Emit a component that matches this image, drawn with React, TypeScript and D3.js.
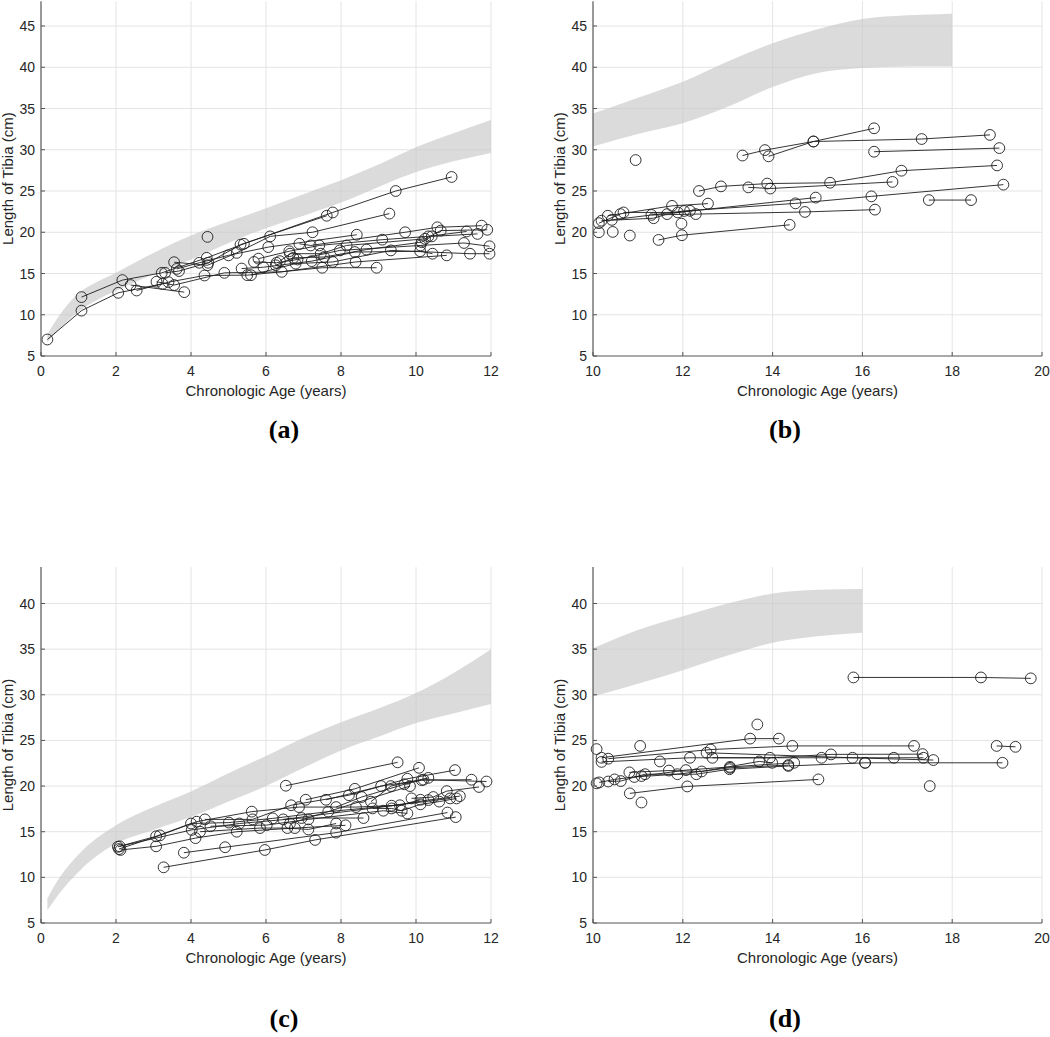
import React from 'react';
import * as d3 from 'd3';

type Pt = [number, number];

// ---------- tick labels ----------
const xTicksYoung = [0, 2, 4, 6, 8, 10, 12];
const xTicksOld = [10, 12, 14, 16, 18, 20];
const yTicksTop = [5, 10, 15, 20, 25, 30, 35, 40, 45];
const yTicksBottom = [5, 10, 15, 20, 25, 30, 35, 40];

const xLabel = 'Chronologic Age (years)';
const yLabel = 'Length of Tibia (cm)';

// ---------- normal range bands ----------
const bandAgesA = [0.17, 0.5, 1, 1.5, 2, 3, 4, 5, 6, 7, 8, 9, 10, 11, 12];
const bandUpperA = [7.6, 10.0, 12.6, 14.0, 15.1, 17.5, 19.6, 21.3, 22.9, 24.6, 26.3, 28.2, 30.3, 32.0, 33.6];
const bandLowerA = [6.7, 8.3, 10.4, 11.8, 12.9, 14.9, 16.7, 18.7, 20.5, 22.0, 23.6, 25.5, 27.3, 28.6, 29.6];

const bandAgesB = [10, 11, 12, 13, 14, 15, 16, 17, 18];
const bandUpperB = [34.4, 36.3, 38.25, 40.7, 42.9, 44.6, 45.85, 46.3, 46.5];
const bandLowerB = [30.4, 31.9, 33.2, 35.2, 37.6, 39.3, 39.9, 40.1, 40.1];

const bandAgesC = [0.17, 0.5, 1, 2, 3, 4, 5, 6, 7, 8, 9, 10, 11, 12];
const bandUpperC = [7.7, 10.0, 12.5, 15.7, 17.7, 19.4, 21.4, 23.3, 25.3, 27.0, 28.5, 30.2, 32.4, 35.0];
const bandLowerC = [6.4, 8.3, 10.6, 13.7, 15.2, 16.6, 18.3, 20.0, 22.0, 23.9, 25.4, 26.9, 27.95, 29.0];

const bandAgesD = [10, 11, 12, 13, 14, 15, 16];
const bandUpperD = [35.1, 37.1, 38.6, 40.0, 41.1, 41.5, 41.6];
const bandLowerD = [29.8, 31.2, 32.7, 34.3, 35.7, 36.4, 36.8];

// ---------- subjects: [age, tibia length] ----------
const subjectsA: Pt[][] = [
  [[0.17, 7.0], [1.08, 10.5], [2.06, 12.66], [3.24, 13.75]],
  [[1.08, 12.14], [2.17, 14.2], [3.22, 15.08], [4.42, 16.9], [5.41, 18.6], [7.78, 22.4], [9.46, 25.0], [10.95, 26.7]],
  [[2.39, 13.6], [3.82, 12.74]],
  [[2.55, 12.94], [3.4, 13.95], [4.36, 14.76], [5.5, 14.8], [7.5, 15.7], [8.95, 15.7]],
  [[3.08, 14.0], [3.55, 13.6], [4.89, 15.08], [6.42, 15.2], [8.39, 16.4], [10.82, 17.2]],
  [[3.55, 16.37], [4.44, 16.0], [5.22, 17.5], [6.11, 19.5], [7.24, 20.0], [9.29, 22.26]],
  [[3.31, 15.08], [3.68, 15.3], [4.46, 16.3], [5.32, 18.5], [7.62, 22.0]],
  [[3.62, 15.56], [4.22, 16.3], [5.0, 17.2], [6.06, 18.2], [8.42, 19.7]],
  [[4.44, 19.44]],
  [[5.35, 15.6], [5.93, 15.76], [7.22, 16.5], [8.37, 17.6], [10.11, 17.7], [10.44, 17.4]],
  [[5.6, 14.8], [6.79, 16.2], [7.78, 16.4], [9.33, 17.8], [11.44, 17.4], [11.96, 17.4]],
  [[5.68, 16.4], [6.28, 16.3], [6.84, 16.7], [7.97, 17.8], [10.12, 18.4], [11.28, 18.7], [11.96, 18.3]],
  [[5.8, 16.8], [6.62, 17.7], [7.42, 18.4], [9.1, 19.1], [10.33, 19.5], [11.35, 20.1]],
  [[6.26, 16.0], [6.73, 16.9], [7.55, 17.0], [8.68, 17.9], [10.15, 18.8], [10.42, 19.5], [11.64, 19.8]],
  [[6.37, 16.5], [6.64, 17.4], [7.46, 17.4], [8.15, 18.4], [10.24, 19.2], [10.66, 20.2], [11.9, 20.3]],
  [[6.89, 18.6], [7.19, 18.4], [9.71, 20.0], [10.57, 20.6], [11.75, 20.8]],
];

const subjectsB: Pt[][] = [
  [[13.33, 29.3], [13.83, 29.96], [14.91, 31.0], [16.26, 32.6]],
  [[13.91, 29.2], [14.91, 31.0], [17.32, 31.3], [18.84, 31.8]],
  [[16.26, 29.76], [19.05, 30.2]],
  [[10.95, 28.75]],
  [[12.36, 25.0], [12.85, 25.56], [13.88, 25.9], [15.28, 26.0], [16.87, 27.46], [19.0, 28.1]],
  [[13.46, 25.44], [13.95, 25.3], [16.67, 26.1]],
  [[10.33, 22.0], [11.76, 23.2], [12.56, 23.47]],
  [[10.42, 21.5], [12.03, 22.58], [14.51, 23.5], [16.2, 24.35], [19.14, 25.77]],
  [[11.3, 22.1], [12.29, 22.2], [14.72, 22.46], [16.28, 22.74]],
  [[11.46, 19.07], [11.98, 19.64], [14.38, 20.9]],
  [[17.48, 23.9], [18.42, 23.9]],
  [[10.68, 22.4], [11.89, 22.4], [14.96, 24.2]],
  [[10.19, 21.4], [11.35, 21.7], [11.65, 22.2], [12.16, 22.6]],
  [[10.13, 21.1], [10.61, 22.2]],
  [[10.13, 20.0]],
  [[10.44, 20.04]],
  [[10.82, 19.6]],
  [[11.97, 21.05]],
];

const subjectsC: Pt[][] = [
  [[2.05, 13.35], [3.07, 14.5], [4.0, 15.9], [5.01, 16.0], [6.18, 16.46], [7.66, 17.2], [9.35, 17.85], [10.33, 18.47], [11.17, 18.9]],
  [[2.08, 13.1], [3.17, 14.6], [4.15, 16.1], [5.62, 17.2], [6.88, 17.7], [8.4, 17.7], [9.57, 17.9], [10.12, 18.5]],
  [[2.1, 13.4], [4.02, 15.2], [5.29, 15.9], [6.95, 16.5], [8.6, 16.5]],
  [[2.12, 13.0], [3.07, 13.4], [4.12, 14.3], [5.22, 15.0], [6.77, 15.4], [8.12, 15.7]],
  [[3.27, 11.1], [5.97, 13.0], [7.31, 14.1], [11.06, 16.6]],
  [[3.81, 12.7], [4.91, 13.3], [7.87, 14.9], [10.84, 17.1]],
  [[4.24, 15.0], [5.84, 15.4], [6.57, 15.4], [7.13, 15.25], [7.87, 15.9]],
  [[4.37, 16.35], [5.64, 16.35], [6.67, 17.9], [8.21, 19.0], [9.77, 20.8], [11.04, 21.75]],
  [[4.52, 15.6], [6.02, 15.73], [7.13, 16.35], [9.13, 17.3], [9.77, 17.0]],
  [[6.53, 20.04], [9.51, 22.6]],
  [[7.06, 18.5], [8.37, 19.7], [10.08, 22.0]],
  [[7.6, 18.5], [9.07, 20.0], [10.15, 20.65], [11.48, 20.7]],
  [[7.87, 17.7], [8.55, 18.8], [9.69, 20.2], [10.2, 20.7], [11.88, 20.5]],
  [[8.8, 18.3], [9.33, 20.0], [10.33, 20.9]],
  [[8.84, 17.55], [9.35, 17.55], [9.62, 17.3], [10.12, 18.0], [10.62, 18.3], [11.08, 18.65]],
  [[9.88, 18.65], [10.46, 18.8], [10.82, 19.45], [11.68, 19.9]],
  [[6.64, 15.9], [9.84, 20.0]],
  [[6.46, 16.35], [10.91, 18.65]],
];

const subjectsD: Pt[][] = [
  [[15.8, 31.9], [18.64, 31.9], [19.75, 31.8]],
  [[10.19, 23.1], [13.5, 25.2], [14.14, 25.2]],
  [[10.34, 23.0], [12.62, 24.0], [14.44, 24.4], [17.15, 24.4]],
  [[18.99, 24.4], [19.41, 24.3]],
  [[10.19, 22.65], [12.16, 23.1], [13.94, 23.1], [15.3, 23.47], [17.34, 23.5]],
  [[12.66, 23.1], [15.09, 23.1], [16.7, 23.1], [17.36, 23.1]],
  [[12.53, 23.65], [15.78, 23.1], [17.58, 22.85]],
  [[16.06, 22.55], [19.12, 22.55]],
  [[10.14, 20.4], [10.48, 20.73], [11.08, 21.1], [12.07, 21.75], [13.05, 22.1], [14.48, 22.55]],
  [[10.34, 20.5], [10.62, 20.55], [11.16, 21.3], [12.3, 21.3], [13.04, 21.85], [14.35, 22.2], [16.06, 22.55]],
  [[10.81, 21.5], [11.69, 21.7], [12.42, 21.6], [13.7, 22.7], [13.99, 22.55]],
  [[10.92, 21.0], [11.88, 21.3], [13.05, 22.0], [14.35, 22.3]],
  [[10.82, 19.2], [12.1, 19.96], [15.02, 20.73]],
  [[10.08, 24.05]],
  [[11.05, 24.4]],
  [[13.66, 26.75]],
  [[11.49, 22.7]],
  [[11.08, 18.2]],
  [[17.5, 20.0]],
  [[10.08, 20.3]],
];

// ---------- panel layout ----------
interface PanelDef {
  id: string;
  label: string;
  xDomain: [number, number];
  yDomain: [number, number];
  left: number;
  right: number;
  bottom: number;
  top: number;
  xTicks: number[];
  yTicks: number[];
  subjects: Pt[][];
  bandAges: number[];
  bandUpper: number[];
  bandLower: number[];
  labelX: number;
  labelY: number;
}

const panels: PanelDef[] = [
  {
    id: 'a', label: '(a)', xDomain: [0, 12], yDomain: [5, 48],
    left: 41, right: 491, bottom: 356, top: 356 - 43 * 8.25,
    xTicks: xTicksYoung, yTicks: yTicksTop, subjects: subjectsA,
    bandAges: bandAgesA, bandUpper: bandUpperA, bandLower: bandLowerA,
    labelX: 284, labelY: 438,
  },
  {
    id: 'b', label: '(b)', xDomain: [10, 20], yDomain: [5, 48],
    left: 593, right: 1042, bottom: 356, top: 356 - 43 * 8.25,
    xTicks: xTicksOld, yTicks: yTicksTop, subjects: subjectsB,
    bandAges: bandAgesB, bandUpper: bandUpperB, bandLower: bandLowerB,
    labelX: 785, labelY: 438,
  },
  {
    id: 'c', label: '(c)', xDomain: [0, 12], yDomain: [5, 44],
    left: 41, right: 491, bottom: 923, top: 567,
    xTicks: xTicksYoung, yTicks: yTicksBottom, subjects: subjectsC,
    bandAges: bandAgesC, bandUpper: bandUpperC, bandLower: bandLowerC,
    labelX: 284, labelY: 1027,
  },
  {
    id: 'd', label: '(d)', xDomain: [10, 20], yDomain: [5, 44],
    left: 593, right: 1042, bottom: 923, top: 567,
    xTicks: xTicksOld, yTicks: yTicksBottom, subjects: subjectsD,
    bandAges: bandAgesD, bandUpper: bandUpperD, bandLower: bandLowerD,
    labelX: 785, labelY: 1027,
  },
];

const FONT = '"Liberation Sans", Arial, Helvetica, sans-serif';
const TEXT = '#262626';
const GRID = '#e4e4e4';
const AXIS = '#555555';
const MARK = '#1e1e1e';

function Panel({ p }: { p: PanelDef }) {
  const x = d3.scaleLinear().domain(p.xDomain).range([p.left, p.right]);
  const y = d3.scaleLinear().domain(p.yDomain).range([p.bottom, p.top]);

  const bandData = p.bandAges.map((a, i) => ({ a, lo: p.bandLower[i], hi: p.bandUpper[i] }));
  const area = d3
    .area<{ a: number; lo: number; hi: number }>()
    .x((d) => x(d.a))
    .y0((d) => y(d.lo))
    .y1((d) => y(d.hi))
    .curve(d3.curveMonotoneX);

  const line = d3
    .line<Pt>()
    .x((d) => x(d[0]))
    .y((d) => y(d[1]));

  const cx = (p.left + p.right) / 2;
  const cy = (p.top + p.bottom) / 2;

  return (
    <g>
      {/* grid */}
      {p.xTicks.filter((t) => t !== p.xDomain[0]).map((t) => (
        <line key={'gx' + t} x1={x(t)} x2={x(t)} y1={p.top} y2={p.bottom} stroke={GRID} strokeWidth={1} />
      ))}
      {p.yTicks.filter((t) => t !== p.yDomain[0]).map((t) => (
        <line key={'gy' + t} x1={p.left} x2={p.right} y1={y(t)} y2={y(t)} stroke={GRID} strokeWidth={1} />
      ))}
      {/* band */}
      <path d={area(bandData) || ''} fill="#c9c9c9" fillOpacity={0.66} stroke="none" />
      {/* subjects */}
      {p.subjects.map((s, i) => (
        <g key={'s' + i}>
          {s.length > 1 && (
            <path d={line(s) || ''} fill="none" stroke={MARK} strokeWidth={0.9} />
          )}
          {s.map((pt, j) => (
            <circle key={j} cx={x(pt[0])} cy={y(pt[1])} r={5.4} fill="none" stroke={MARK} strokeWidth={0.9} />
          ))}
        </g>
      ))}
      {/* axes */}
      <line x1={p.left} x2={p.left} y1={p.top} y2={p.bottom} stroke={AXIS} strokeWidth={1.2} />
      <line x1={p.left} x2={p.right} y1={p.bottom} y2={p.bottom} stroke={AXIS} strokeWidth={1.2} />
      {p.yTicks.map((t) => (
        <line key={'ty' + t} x1={p.left} x2={p.left + 4} y1={y(t)} y2={y(t)} stroke={AXIS} strokeWidth={1} />
      ))}
      {p.xTicks.map((t) => (
        <line key={'tx' + t} x1={x(t)} x2={x(t)} y1={p.bottom} y2={p.bottom - 4} stroke={AXIS} strokeWidth={1} />
      ))}
      {/* tick labels */}
      {p.yTicks.map((t) => (
        <text key={'ly' + t} x={p.left - 6} y={y(t)} dy="0.36em" textAnchor="end" fontSize={14} fontFamily={FONT} fill={TEXT}>
          {t}
        </text>
      ))}
      {p.xTicks.map((t) => (
        <text key={'lx' + t} x={x(t)} y={p.bottom + 20} textAnchor="middle" fontSize={14} fontFamily={FONT} fill={TEXT}>
          {t}
        </text>
      ))}
      {/* axis titles */}
      <text x={cx} y={p.bottom + 40} textAnchor="middle" fontSize={15} fontFamily={FONT} fill={TEXT}>
        {xLabel}
      </text>
      <text
        transform={`translate(${p.left - 28},${cy}) rotate(-90)`}
        textAnchor="middle"
        fontSize={15}
        fontFamily={FONT}
        fill={TEXT}
      >
        {yLabel}
      </text>
      {/* panel label */}
      <text x={p.labelX} y={p.labelY} textAnchor="middle" fontSize={26} fontWeight="bold" fontFamily='"Liberation Serif", "Times New Roman", serif' fill="#000">
        {p.label}
      </text>
    </g>
  );
}

export default function App() {
  return (
    <svg
      width={1050}
      height={1037}
      viewBox="0 0 1050 1037"
      style={{ position: 'absolute', left: 0, top: 0, background: '#fff' }}
    >
      <rect x={0} y={0} width={1050} height={1037} fill="#fff" />
      {panels.map((p) => (
        <Panel key={p.id} p={p} />
      ))}
    </svg>
  );
}
